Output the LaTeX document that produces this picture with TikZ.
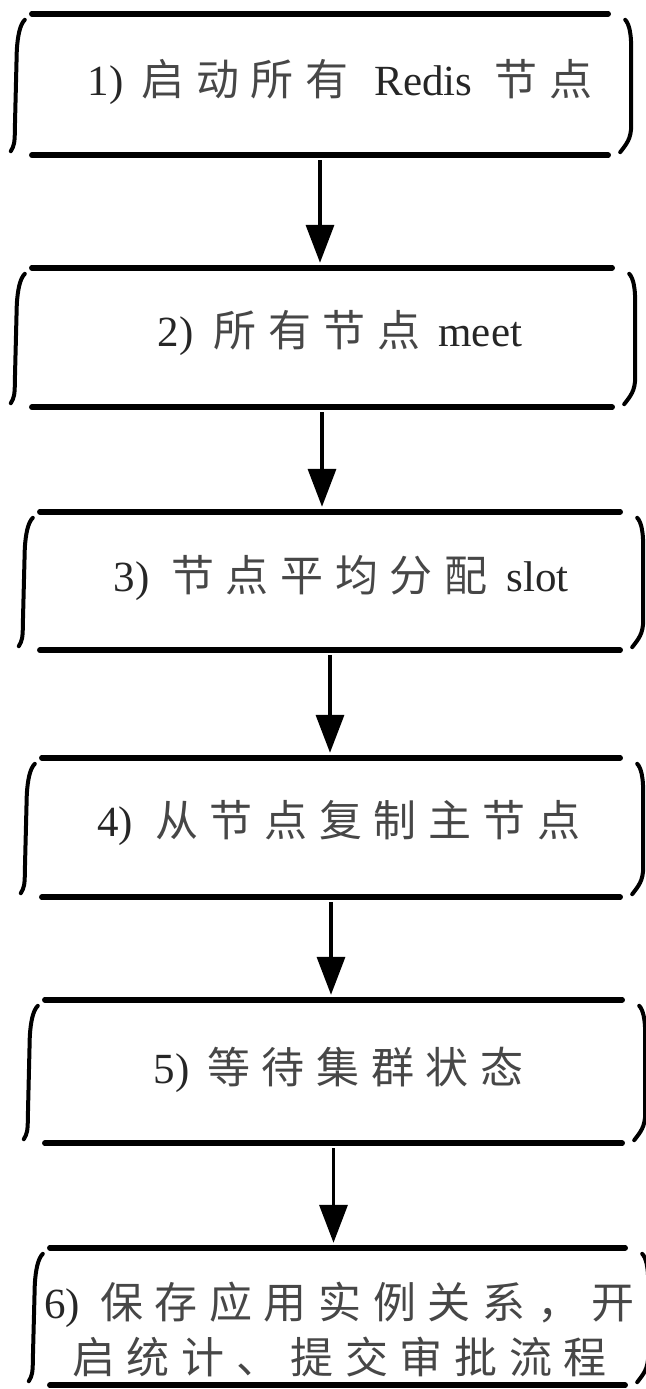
\documentclass[tikz,border=0pt]{standalone}
\usepackage{fontspec}
\setmainfont{Liberation Serif}
\newfontfamily\cjk[LetterSpace=27]{Noto Sans CJK SC}
\usetikzlibrary{arrows.meta}
\newcommand{\zh}[1]{{\cjk\color{black!72}#1}}
\tikzset{
  stepbox/.style={rectangle, inner sep=0pt, minimum height=140pt},
  steptext/.style={font=\fontsize{43}{55}\selectfont, text=black!85, align=center, inner sep=0pt},
  sketch/.style={line width=5.5pt, line cap=round},
  brace/.style={line width=4pt, line cap=round},
  flow/.style={line width=3.5pt, -{Triangle[width=28pt,length=38pt]}, shorten <=5pt, shorten >=5pt},
}

\begin{document}
\begin{tikzpicture}[x=1pt, y=-1pt]
\useasboundingbox (0,0) rectangle (645,1389);
% steps
\node[stepbox, minimum width=576pt, minimum height=141pt, label={[steptext,xshift=20pt,yshift=3pt]center:{1)\hspace{18pt}\zh{启动所有}\hspace{26pt}Redis\hspace{22pt}\zh{节点}}}] (s1) at (320,84.5) {};
\node[stepbox, minimum width=580pt, minimum height=139pt, label={[steptext,xshift=18pt,yshift=4pt]center:{2)\hspace{20pt}\zh{所有节点}\hspace{18pt}meet}}] (s2) at (322,337.5) {};
\node[stepbox, minimum width=580pt, minimum height=138pt, label={[steptext,xshift=11pt,yshift=3pt]center:{3)\hspace{22pt}\zh{节点平均分配}\hspace{19pt}slot}}] (s3) at (330,581) {};
\node[stepbox, minimum width=578pt, minimum height=139pt, label={[steptext,xshift=8pt,yshift=4pt]center:{4)\hspace{22pt}\zh{从节点复制主节点}}}] (s4) at (331,827.5) {};
\node[stepbox, minimum width=577pt, minimum height=143pt, label={[steptext,xshift=5pt,yshift=2pt]center:{5)\hspace{18pt}\zh{等待集群状态}}}] (s5) at (333.5,1071.5) {};
\node[stepbox, minimum width=575pt, minimum height=137pt, label={[steptext,xshift=2pt,yshift=-13pt]center:{6)\hspace{20pt}\zh{保存应用实例关系，开}\\\zh{启统计、提交审批流程}}}] (s6) at (337.5,1316.5) {};
% hand-drawn frames
\foreach \i in {1,...,6}{
  \draw[sketch] (s\i.north west) -- (s\i.north east);
  \draw[sketch] (s\i.south west) -- (s\i.south east);
  \draw[brace] ([shift={(-7,6)}]s\i.north west) .. controls +(-5,5) and +(1,-14) .. ([shift={(-15,36)}]s\i.north west)
    -- ([shift={(-17,-24)}]s\i.south west) .. controls +(0,12) and +(3,-5) .. ([shift={(-21,-4)}]s\i.south west);
  \draw[brace] ([shift={(17,6)}]s\i.north east) .. controls +(4,4) and +(0,-14) .. ([shift={(23,34)}]s\i.north east)
    -- ([shift={(23,-30)}]s\i.south east) .. controls +(0,14) and +(6,-8) .. ([shift={(12,-3)}]s\i.south east);
}
% arrows
\foreach \i/\j in {1/2,2/3,3/4,4/5,5/6}
  \draw[flow] (s\i.south) -- (s\i.south |- s\j.north);
\end{tikzpicture}
\end{document}
